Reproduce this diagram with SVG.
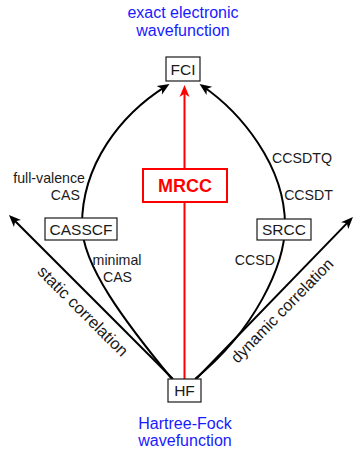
<svg xmlns="http://www.w3.org/2000/svg" width="354" height="449" viewBox="0 0 354 449">
<style>
  .blue{font-family:"Liberation Sans",Arial,sans-serif;font-size:16px;fill:#1a1aff;text-anchor:middle}
  .lbl{font-family:"Liberation Sans",Arial,sans-serif;font-size:14.2px;fill:#1a1a1a}
  .rot{font-family:"Liberation Sans",Arial,sans-serif;font-size:16px;fill:#1a1a1a;text-anchor:middle}
  .box rect{fill:#fff;stroke:#1a1a1a;stroke-width:1.2}
  .box text{font-family:"Liberation Sans",Arial,sans-serif;font-size:15.5px;fill:#1a1a1a;text-anchor:middle}
  .conn path{fill:none;stroke:#000;stroke-width:2}
  .conn path.red{stroke:#ff0000}
</style>
<defs>
  <marker id="ah" viewBox="-9 -7 14 14" refX="0" refY="0" markerWidth="14" markerHeight="14" markerUnits="userSpaceOnUse" orient="auto">
    <path d="M4,0 L-8,-5 L-4.8,0 L-8,5 Z" fill="#000"/>
  </marker>
  <marker id="ahr" viewBox="-9 -7 14 14" refX="0" refY="0" markerWidth="14" markerHeight="14" markerUnits="userSpaceOnUse" orient="auto">
    <path d="M4,0 L-8,-5 L-4.8,0 L-8,5 Z" fill="#ff0000"/>
  </marker>
</defs>

<text class="blue" x="183" y="17.5">exact electronic</text>
<text class="blue" x="183" y="35.5">wavefunction</text>
<text class="blue" x="185" y="429">Hartree-Fock</text>
<text class="blue" x="185" y="446">wavefunction</text>

<g id="connectors" class="conn">
  <path d="M173,379 L11.8,217.8" marker-end="url(#ah)"/>
  <path d="M196,379 L350.2,219.9" marker-end="url(#ah)"/>
  <path d="M172,379 C125,322 82,265 82,225 C82,165 120,115 166.1,86.1" marker-end="url(#ah)"/>
  <path d="M195,379 C255,330 285,265 285,225 C285,165 240,112 202.8,86.3" marker-end="url(#ah)"/>
  <path class="red" d="M184.5,379 L184.5,89" marker-end="url(#ahr)"/>
</g>

<g id="FCI" class="box">
  <rect x="166" y="57" width="34" height="24"/>
  <text x="183" y="74.6">FCI</text>
</g>
<g id="HF" class="box">
  <rect x="168" y="379" width="33" height="23"/>
  <text x="184.5" y="396.2">HF</text>
</g>
<g id="CASSCF" class="box">
  <rect x="45" y="218" width="72" height="22"/>
  <text x="81" y="234.6">CASSCF</text>
</g>
<g id="SRCC" class="box">
  <rect x="257" y="219" width="54" height="21"/>
  <text x="284" y="235.2">SRCC</text>
</g>
<g id="MRCC">
  <rect x="143" y="169" width="84" height="33" fill="#fff" stroke="#ff0000" stroke-width="2"/>
  <text x="185" y="192" font-family="'Liberation Sans',Arial,sans-serif" font-size="18px" font-weight="bold" fill="#ff0000" text-anchor="middle">MRCC</text>
</g>

<g id="labels">
  <text class="lbl" x="85" y="183" text-anchor="end">full-valence</text>
  <text class="lbl" x="80" y="200" text-anchor="end">CAS</text>
  <text class="lbl" x="117" y="264.5" text-anchor="middle">minimal</text>
  <text class="lbl" x="117.5" y="282" text-anchor="middle">CAS</text>
  <text class="lbl" x="332" y="163" text-anchor="end">CCSDTQ</text>
  <text class="lbl" x="333" y="200" text-anchor="end">CCSDT</text>
  <text class="lbl" x="275" y="265" text-anchor="end">CCSD</text>
  <text class="rot" transform="translate(94.5,299.5) rotate(45)" x="0" y="22" style="font-size:16.5px">static correlation</text>
  <text class="rot" transform="translate(271.6,300.5) rotate(-45.7)" x="0" y="20">dynamic correlation</text>
</g>
</svg>
